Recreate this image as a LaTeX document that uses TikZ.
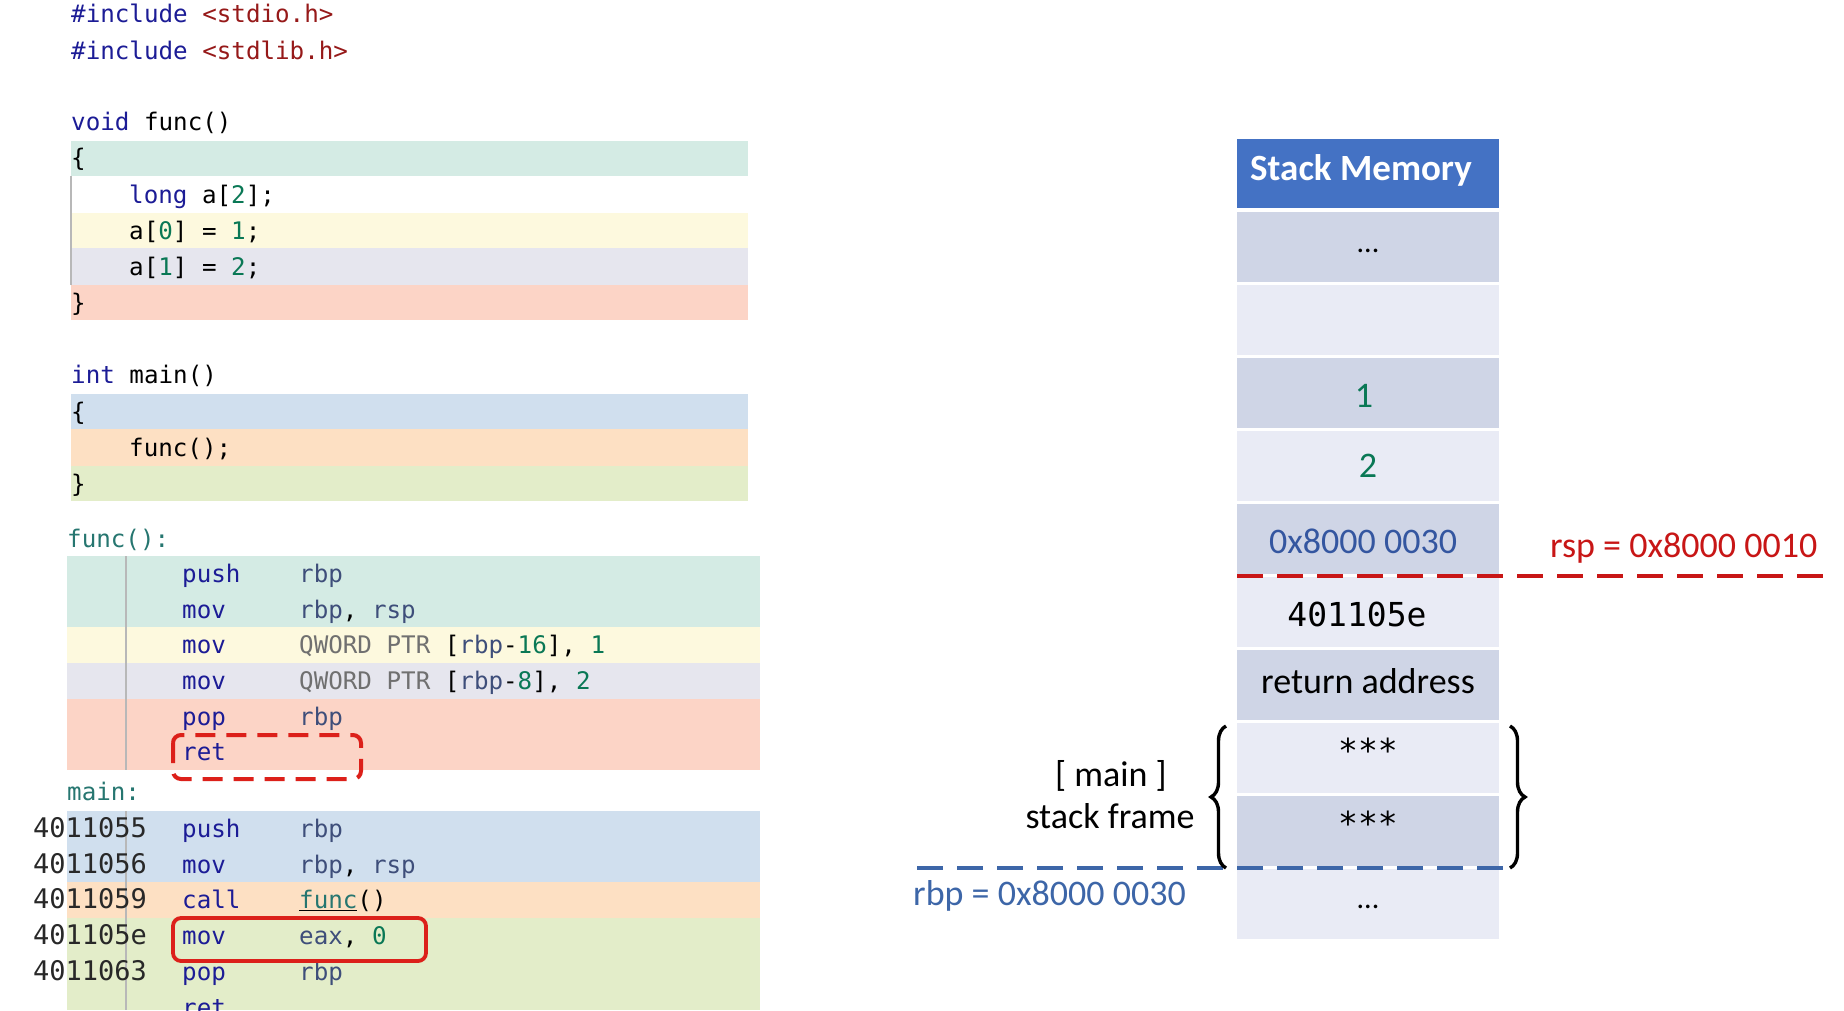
\documentclass[tikz,border=0pt]{standalone}
\usepackage{fontspec}
\setmainfont{Carlito}
\newfontfamily\codefont{DejaVu Sans Mono}
\usetikzlibrary{decorations.pathreplacing}

% syntax colours
\definecolor{kw}{RGB}{28,28,150}
\definecolor{strc}{RGB}{150,25,25}
\definecolor{numc}{RGB}{10,120,85}
\definecolor{regc}{RGB}{62,78,122}
\definecolor{ptrc}{RGB}{112,112,112}
\definecolor{lblc}{RGB}{38,118,112}
\definecolor{addrc}{RGB}{40,40,40}
% line highlight colours
\definecolor{bTeal}{RGB}{212,235,228}
\definecolor{bYellow}{RGB}{253,249,222}
\definecolor{bLav}{RGB}{230,230,238}
\definecolor{bSalmon}{RGB}{252,212,198}
\definecolor{bBlue}{RGB}{208,223,238}
\definecolor{bOrange}{RGB}{253,224,195}
\definecolor{bGreen}{RGB}{227,237,201}
% stack colours
\definecolor{hdrc}{RGB}{68,114,196}
\definecolor{cellA}{RGB}{207,213,230}
\definecolor{cellB}{RGB}{233,235,245}
\definecolor{memblue}{RGB}{52,86,160}
\definecolor{rspred}{RGB}{200,22,22}
\definecolor{boxred}{RGB}{220,32,26}
\definecolor{rbpblue}{RGB}{61,102,168}

\newcommand\ckw[1]{\textcolor{kw}{#1}}
\newcommand\cstr[1]{\textcolor{strc}{#1}}
\newcommand\cnum[1]{\textcolor{numc}{#1}}
\newcommand\creg[1]{\textcolor{regc}{#1}}
\newcommand\cptr[1]{\textcolor{ptrc}{#1}}

\tikzset{
  code/.style={anchor=base west, inner sep=0pt, font=\codefont\fontsize{24.2}{29}\selectfont},
  addr/.style={anchor=base west, inner sep=0pt, text=addrc, font=\codefont\fontsize{27}{32}\selectfont},
  lbl/.style={code, text=lblc},
  gutter/.style={draw=black!28, line width=1.2pt},
  cell/.style={draw=none, minimum width=262pt, minimum height=70pt, inner sep=0pt},
  memtxt/.style={anchor=base, inner sep=0pt, font=\fontsize{36}{43}\selectfont},
  memcode/.style={anchor=base, inner sep=0pt, font=\codefont\fontsize{33}{40}\selectfont},
  curly/.style={decorate, decoration={brace, amplitude=15pt}, line width=3.4pt},
  dashline/.style={line width=4pt, dash pattern=on 26pt off 14pt},
}

\begin{document}
\begin{tikzpicture}[x=1pt, y=1pt]
\clip (0,0) rectangle (1844,-1010);
\fill[white] (0,0) rectangle (1844,-1010);

% ---- C source: highlighted lines ----
\fill[bTeal]   (71,-141) rectangle (748,-176);
\fill[bYellow] (71,-213) rectangle (748,-248);
\fill[bLav]    (71,-248) rectangle (748,-285);
\fill[bSalmon] (71,-285) rectangle (748,-320);
\draw[gutter]  (71,-176) -- (71,-285);
\fill[bBlue]   (71,-394) rectangle (748,-429);
\fill[bOrange] (71,-429) rectangle (748,-466);
\fill[bGreen]  (71,-466) rectangle (748,-501);

\node[code] (inc1) at (71,-22)  {\ckw{\#include} \cstr{<stdio.h>}};
\node[code] (inc2) at (71,-59)  {\ckw{\#include} \cstr{<stdlib.h>}};
\node[code] (fdef) at (71,-130) {\ckw{void} func()};
\node[code] (fob)  at (71,-166) {\{};
\node[code] (fl1)  at (129,-203) {\ckw{long} a[\cnum{2}];};
\node[code] (fl2)  at (129,-239) {a[\cnum{0}] = \cnum{1};};
\node[code] (fl3)  at (129,-275) {a[\cnum{1}] = \cnum{2};};
\node[code] (fcb)  at (71,-311) {\}};
\node[code] (mdef) at (71,-383) {\ckw{int} main()};
\node[code] (mob)  at (71,-420) {\{};
\node[code] (ml1)  at (129,-456) {func();};
\node[code] (mcb)  at (71,-492) {\}};

% ---- assembly: func() ----
\fill[bTeal]   (67,-556) rectangle (760,-627);
\fill[bYellow] (67,-627) rectangle (760,-663);
\fill[bLav]    (67,-663) rectangle (760,-699);
\fill[bSalmon] (67,-699) rectangle (760,-770);
\draw[gutter]  (126,-556) -- (126,-770);

\node[lbl] (flab) at (67,-547) {func():};
\node[code] (a1m) at (182,-582) {\ckw{push}};  \node[code] (a1o) at (299,-582) {\creg{rbp}};
\node[code] (a2m) at (182,-618) {\ckw{mov}};   \node[code] (a2o) at (299,-618) {\creg{rbp}, \creg{rsp}};
\node[code] (a3m) at (182,-653) {\ckw{mov}};   \node[code] (a3o) at (299,-653) {\cptr{QWORD PTR} [\creg{rbp}-\cnum{16}], \cnum{1}};
\node[code] (a4m) at (182,-689) {\ckw{mov}};   \node[code] (a4o) at (299,-689) {\cptr{QWORD PTR} [\creg{rbp}-\cnum{8}], \cnum{2}};
\node[code] (a5m) at (182,-725) {\ckw{pop}};   \node[code] (a5o) at (299,-725) {\creg{rbp}};
\node[code] (a6m) at (182,-760) {\ckw{ret}};

% ---- assembly: main ----
\fill[bBlue]   (67,-811) rectangle (760,-882);
\fill[bOrange] (67,-882) rectangle (760,-918);
\fill[bGreen]  (67,-918) rectangle (760,-1010);
\draw[gutter]  (126,-811) -- (126,-1010);

\node[lbl] (mlab) at (67,-800) {main:};
\node[addr] (ad1) at (33,-837) {4011055};
\node[addr] (ad2) at (33,-873) {4011056};
\node[addr] (ad3) at (33,-908) {4011059};
\node[addr] (ad4) at (33,-944) {401105e};
\node[addr] (ad5) at (33,-980) {4011063};
\node[code] (b1m) at (182,-837) {\ckw{push}};  \node[code] (b1o) at (299,-837) {\creg{rbp}};
\node[code] (b2m) at (182,-873) {\ckw{mov}};   \node[code] (b2o) at (299,-873) {\creg{rbp}, \creg{rsp}};
\node[code] (b3m) at (182,-908) {\ckw{call}};  \node[code] (b3o) at (299,-908) {\underline{\textcolor{lblc}{func}}()};
\node[code] (b4m) at (182,-944) {\ckw{mov}};   \node[code] (b4o) at (299,-944) {\creg{eax}, \cnum{0}};
\node[code] (b5m) at (182,-980) {\ckw{pop}};   \node[code] (b5o) at (299,-980) {\creg{rbp}};
\node[code] (b6m) at (182,-1016) {\ckw{ret}};

% markers on the listing
\draw[boxred, line width=4pt, rounded corners=8pt, dash pattern=on 20pt off 11pt]
  (173,-735) rectangle (361,-779);
\draw[boxred, line width=3.8pt, rounded corners=8pt]
  (173,-918) rectangle (426,-961);

% ---- stack memory ----
\node[cell, fill=hdrc, minimum height=69pt] (hdr) at (1368,-173.5) {};
\node[anchor=base west, inner sep=0pt, text=white, font=\bfseries\fontsize{37}{44}\selectfont]
  (hdrt) at (1250,-180) {Stack Memory};

\foreach \i/\c in {1/cellA,2/cellB,3/cellA,4/cellB,5/cellA,6/cellB,7/cellA,8/cellB,9/cellA,10/cellB}
  \node[cell, fill=\c] (m\i) at (1368,{-(247+73*(\i-1))}) {};

\node[memtxt, font=\fontsize{30}{36}\selectfont] (t1) at (1368,-252) {...};
\node[memtxt, text=numc] (t3) at (1364,-407) {1};
\node[memtxt, text=numc] (t4) at (1368,-477) {2};
\node[memtxt, text=memblue] (t5) at (1363,-553) {0x8000 0030};
\node[memcode] (t6) at (1357,-626) {401105e};
\node[memtxt] (t7) at (1368,-693) {return address};
\node[memcode] (t8) at (1368,-762) {***};
\node[memcode] (t9) at (1368,-835) {***};
\node[memtxt, font=\fontsize{30}{36}\selectfont] (t10) at (1368,-908) {...};

% stack pointer
\coordinate (rspL) at (1237,-576);
\coordinate (rspR) at (1823,-576);
\draw[rspred, dashline] (rspL) -- (rspR);
\node[anchor=base west, inner sep=0pt, text=rspred, font=\fontsize{36}{43}\selectfont]
  (rsp) at (1550,-557) {rsp = 0x8000 0010};

% base pointer
\coordinate (rbpL) at (917,-868);
\coordinate (rbpR) at (1505,-868);
\draw[rbpblue, dashline] (rbpL) -- (rbpR);
\node[anchor=base west, inner sep=0pt, text=rbpblue, font=\fontsize{36}{43}\selectfont]
  (rbp) at (913,-905) {rbp = 0x8000 0030};

% main's frame
\coordinate (bl0) at (1226,-868);
\coordinate (bl1) at (1226,-726);
\coordinate (br0) at (1510,-726);
\coordinate (br1) at (1510,-868);
\draw[curly] (bl0) -- (bl1);
\draw[curly] (br0) -- (br1);
\node[memtxt] (fr1) at (1111,-786) {[ main ]};
\node[memtxt] (fr2) at (1110,-828) {stack frame};
\end{tikzpicture}
\end{document}
